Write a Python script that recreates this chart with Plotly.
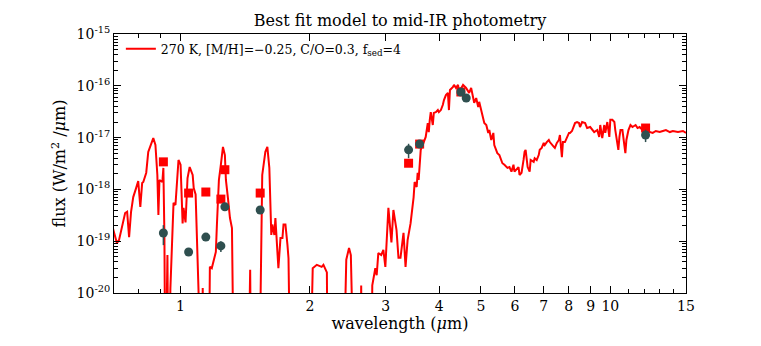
import plotly.graph_objects as go

# Model spectrum (wavelength in micron, flux in W/m^2/micron); 1e-22 = below plot floor
spec_wl = [0.692, 0.711, 0.719, 0.731, 0.743, 0.751, 0.759, 0.767, 0.776, 0.788,
           0.797, 0.806, 0.814, 0.819, 0.832, 0.841, 0.860, 0.864, 0.874, 0.883,
           0.888, 0.893, 0.907, 0.912, 0.917, 0.922, 0.932, 0.937, 0.947, 0.958,
           0.963, 0.973, 0.984, 0.989, 1.000, 1.011, 1.016, 1.027, 1.038, 1.050,
           1.067, 1.073, 1.084, 1.096, 1.102, 1.120, 1.126, 1.132, 1.163, 1.170,
           1.182, 1.195, 1.208, 1.215, 1.228, 1.241, 1.255, 1.268, 1.275, 1.289,
           1.303, 1.317, 1.331, 1.436, 1.452, 1.460, 1.524, 1.541, 1.549, 1.575,
           1.592, 1.609, 1.626, 1.635, 1.653, 1.662, 1.680, 1.689, 1.708, 1.726,
           1.736, 1.754, 1.773, 1.783, 1.802,
           2.0, 2.030, 2.075, 2.13, 2.15, 2.19, 2.20, 2.39, 2.43, 2.466,
           2.49, 2.534, 2.62, 2.632, 2.645, 2.78, 2.793, 2.839, 2.86, 2.885,
           2.93, 2.964, 2.996, 3.045, 3.095, 3.128, 3.18, 3.214, 3.249, 3.302,
           3.338, 3.375, 3.429, 3.486, 3.505, 3.543, 3.562, 3.581, 3.621, 3.660,
           3.719, 3.760, 3.780, 3.801, 3.821, 3.863, 3.884, 3.926, 3.969, 3.991,
           4.034, 4.077, 4.101, 4.144, 4.189, 4.212, 4.235, 4.304, 4.327, 4.374,
           4.422, 4.446, 4.543, 4.617, 4.693, 4.744, 4.795, 4.822, 4.874, 4.927,
           4.953, 5.008, 5.062, 5.090, 5.145, 5.200, 5.229, 5.284, 5.343, 5.370,
           5.459, 5.519, 5.609, 5.670, 5.763, 5.826, 5.888, 5.952, 5.984, 6.049,
           6.115, 6.148, 6.215, 6.282, 6.317, 6.352, 6.421, 6.491, 6.526, 6.632,
           6.668, 6.741, 6.814, 6.851, 6.924, 7.000, 7.038, 7.114, 7.192, 7.231,
           7.309, 7.389, 7.429, 7.509, 7.591, 7.633, 7.715, 7.757, 7.842, 7.927,
           8.013, 8.056, 8.143, 8.277, 8.321, 8.366, 8.456, 8.502, 8.597, 8.737,
           8.832, 8.978, 9.172, 9.322, 9.423, 9.474, 9.577, 9.681, 9.734, 9.840,
           9.947, 10.00, 10.11, 10.22, 10.27, 10.33, 10.44, 10.50, 10.56, 10.67,
           10.79, 10.84, 10.90, 11.02, 11.14, 11.26, 11.45, 11.57, 11.70, 11.89,
           12.35, 12.55, 12.76, 13.03, 13.25, 13.47, 13.76, 13.98, 14.37, 14.76,
           15.0]
spec_flux = [2.1e-19, 9.2e-20, 1.05e-19, 2.1e-19, 3.5e-19, 3.7e-19, 1.2e-19, 3.7e-19, 7.1e-19, 1.06e-18,
             1.45e-18, 4.6e-19, 1.33e-18, 1.39e-18, 2.1e-18, 5.3e-18, 9.4e-18, 9.8e-18, 7.2e-18, 1.9e-18,
             3.2e-19, 1.52e-18, 1.39e-18, 2.6e-18, 1.32e-19, 1e-22, 5.4e-20, 1e-22, 1.25e-20, 1.8e-19,
             5.5e-19, 5.0e-19, 2.6e-18, 3.7e-18, 3.0e-18, 2.2e-19, 4.4e-19, 2.3e-19, 1.66e-18, 2.7e-18,
             1.9e-18, 1.06e-18, 8.0e-19, 4.7e-20, 1e-22, 1e-22, 1.25e-20, 1e-22, 1e-22, 3.2e-20,
             3.0e-20, 4.7e-20, 6.2e-20, 2.1e-19, 1.52e-18, 3.0e-18, 6.6e-18, 4.6e-18, 1.52e-18, 6.8e-19,
             2.8e-19, 1.8e-19, 1e-22, 1e-22, 2.8e-20, 1e-22, 1e-22, 3.2e-19, 1.9e-18, 5.3e-18,
             6.6e-18, 2.6e-18, 1.32e-19, 2.1e-19, 1.32e-19, 2.8e-19, 7.4e-20, 3.0e-20, 1.15e-19, 1.15e-19,
             2.1e-19, 2.1e-19, 8.5e-20, 4.7e-20, 1e-22,
             1e-22, 3.0e-20, 3.5e-20, 3.2e-20, 3.5e-20, 2.5e-20, 1e-22, 1e-22, 4.4e-20, 7.4e-20,
             5.4e-20, 1e-22, 1e-22, 1.4e-20, 1e-22, 1e-22, 1.4e-20, 3.0e-20, 2.2e-20, 5.9e-20,
             5.4e-20, 6.8e-20, 3.2e-20, 4.4e-19, 9.5e-20, 4.0e-19, 1.66e-19, 4.8e-20, 4.8e-20, 1.45e-19,
             3.2e-20, 1.05e-19, 2.2e-19, 7.1e-19, 1.39e-18, 1.11e-18, 2.1e-18, 1.52e-18, 5.8e-18, 7.2e-18,
             1.03e-17, 1.91e-17, 1.28e-17, 2.2e-17, 3.1e-17, 1.75e-17, 3.0e-17, 3.1e-17, 3.4e-17, 3.1e-17,
             3.4e-17, 4.3e-17, 5.3e-17, 6.6e-17, 7.3e-17, 3.4e-17, 8.3e-17, 9.5e-17, 1.04e-16, 9.1e-17,
             1.04e-16, 7.6e-17, 1.04e-16, 9.1e-17, 7.3e-17, 9.1e-17, 6.1e-17, 4.7e-17, 5.8e-17, 3.9e-17,
             4.9e-17, 3.5e-17, 2.5e-17, 1.91e-17, 1.75e-17, 1.23e-17, 1.40e-17, 9.0e-18, 1.23e-17, 7.2e-18,
             5.0e-18, 4.6e-18, 3.2e-18, 3.0e-18, 2.6e-18, 2.7e-18, 2.2e-18, 3.0e-18, 2.2e-18, 2.4e-18,
             2.7e-18, 1.9e-18, 2.1e-18, 3.7e-18, 5.3e-18, 5.8e-18, 2.7e-18, 2.2e-18, 3.7e-18, 3.4e-18,
             4.0e-18, 3.7e-18, 4.6e-18, 5.8e-18, 6.3e-18, 7.9e-18, 7.2e-18, 8.2e-18, 9.0e-18, 8.2e-18,
             7.2e-18, 6.6e-18, 6.3e-18, 7.9e-18, 9.0e-18, 1.12e-17, 4.2e-18, 8.2e-18, 8.2e-18, 9.8e-18,
             1.23e-17, 1.23e-17, 1.34e-17, 1.91e-17, 2.0e-17, 2.0e-17, 1.91e-17, 1.6e-17, 2.0e-17, 1.91e-17,
             1.53e-17, 1.6e-17, 1.28e-17, 1.40e-17, 1.03e-17, 1.75e-17, 9.8e-18, 1.75e-17, 1.23e-17, 2.0e-17,
             1.03e-17, 2.2e-17, 2.2e-17, 2.0e-17, 1.40e-17, 1.03e-17, 5.8e-18, 1.03e-17, 1.40e-17, 1.40e-17,
             6.6e-18, 5.0e-18, 9.0e-18, 1.40e-17, 1.75e-17, 1.6e-17, 1.75e-17, 1.53e-17, 1.6e-17, 1.40e-17,
             1.28e-17, 1.23e-17, 1.34e-17, 1.28e-17, 1.34e-17, 1.40e-17, 1.28e-17, 1.34e-17, 1.28e-17, 1.34e-17,
             1.23e-17]

# Model synthetic photometry (red squares)
mod_wl = [0.912, 1.044, 1.145, 1.241, 1.268, 1.532, 3.393, 3.60, 4.49, 12.08]
mod_flux = [3.4e-18, 8.5e-19, 8.9e-19, 6.5e-19, 2.4e-18, 8.5e-19, 3.2e-18, 7.5e-18, 7.6e-17, 1.53e-17]

# Observed photometry (dark circles) with errors
obs_wl = [0.912, 1.044, 1.145, 1.241, 1.268, 1.532, 3.393, 3.60, 4.49, 4.62, 12.08]
obs_flux = [1.44e-19, 6.2e-20, 1.2e-19, 8.1e-20, 4.6e-19, 4.0e-19, 5.8e-18, 7.5e-18, 7.6e-17, 5.8e-17, 1.12e-17]
obs_err = [0.6e-19, 0.5e-20, 0.8e-20, 1.9e-20, 0.3e-19, 0.3e-19, 1.8e-18, 0.4e-18, 0.3e-17, 0.3e-17, 3.0e-18]

x_tickvals = [1, 2, 3, 4, 5, 6, 7, 8, 9, 10, 15]
x_ticktext = ["1", "2", "3", "4", "5", "6", "7", "8", "9", "10", "15"]
x_minor = [0.7, 0.8, 0.9, 11, 12, 13, 14]
y_tickvals = [1e-20, 1e-19, 1e-18, 1e-17, 1e-16, 1e-15]
y_ticktext = ["10<sup>-20</sup>", "10<sup>-19</sup>", "10<sup>-18</sup>",
              "10<sup>-17</sup>", "10<sup>-16</sup>", "10<sup>-15</sup>"]
y_minor = [k * 10.0 ** e for e in range(-20, -15) for k in range(2, 10)]

FONT = "DejaVu Serif"
RED = "#ff0000"
GRAY = "#2f4f4f"

fig = go.Figure()
fig.add_trace(go.Scatter(
    x=spec_wl, y=spec_flux, mode="lines",
    line=dict(color=RED, width=2),
    name="270 K, [M/H]=\u22120.25, C/O=0.3, f<sub>sed</sub>=4",
))
fig.add_trace(go.Scatter(
    x=mod_wl, y=mod_flux, mode="markers",
    marker=dict(symbol="square", color=RED, size=9),
    showlegend=False,
))
fig.add_trace(go.Scatter(
    x=obs_wl, y=obs_flux, mode="markers",
    marker=dict(symbol="circle", color=GRAY, size=9),
    error_y=dict(type="data", array=obs_err, color=GRAY, thickness=1.5, width=0),
    showlegend=False,
))

fig.update_layout(
    width=761, height=346,
    margin=dict(l=106, r=83, t=26, b=61),
    paper_bgcolor="white", plot_bgcolor="white",
    font=dict(family=FONT, color="black", size=13),
    title=dict(text="Best fit model to mid-IR photometry", x=0.5, xref="paper",
               y=1 - 12 / 346, yref="container", yanchor="middle", xanchor="center",
               font=dict(family=FONT, size=16, color="black")),
    showlegend=True,
    legend=dict(x=0.012, y=1.0, xanchor="left", yanchor="top",
                bgcolor="rgba(0,0,0,0)", font=dict(family=FONT, size=12.5)),
)
fig.update_xaxes(
    type="log", range=[-0.1549, 1.1761], automargin=False,
    tickmode="array", tickvals=x_tickvals, ticktext=x_ticktext,
    ticks="inside", ticklen=7, tickwidth=1, tickcolor="black",
    minor=dict(tickmode="array", tickvals=x_minor, ticks="inside", ticklen=4,
               tickcolor="black", showgrid=False),
    showline=True, linecolor="black", linewidth=1, mirror="allticks",
    showgrid=False, zeroline=False,
    title=dict(text="wavelength (<i>\u03bc</i>m)", font=dict(family=FONT, size=16), standoff=4),
    tickfont=dict(family=FONT, size=14),
)
fig.update_yaxes(
    type="log", range=[-20, -15], automargin=False,
    tickmode="array", tickvals=y_tickvals, ticktext=y_ticktext,
    ticks="inside", ticklen=7, tickwidth=1, tickcolor="black",
    minor=dict(tickmode="array", tickvals=y_minor, ticks="inside", ticklen=4,
               tickcolor="black", showgrid=False),
    showline=True, linecolor="black", linewidth=1, mirror="allticks",
    showgrid=False, zeroline=False,
    title=dict(text="flux (W/m<sup>2</sup> /<i>\u03bc</i>m)", font=dict(family=FONT, size=16), standoff=6),
    tickfont=dict(family=FONT, size=14),
)

fig.write_html("out.html")
